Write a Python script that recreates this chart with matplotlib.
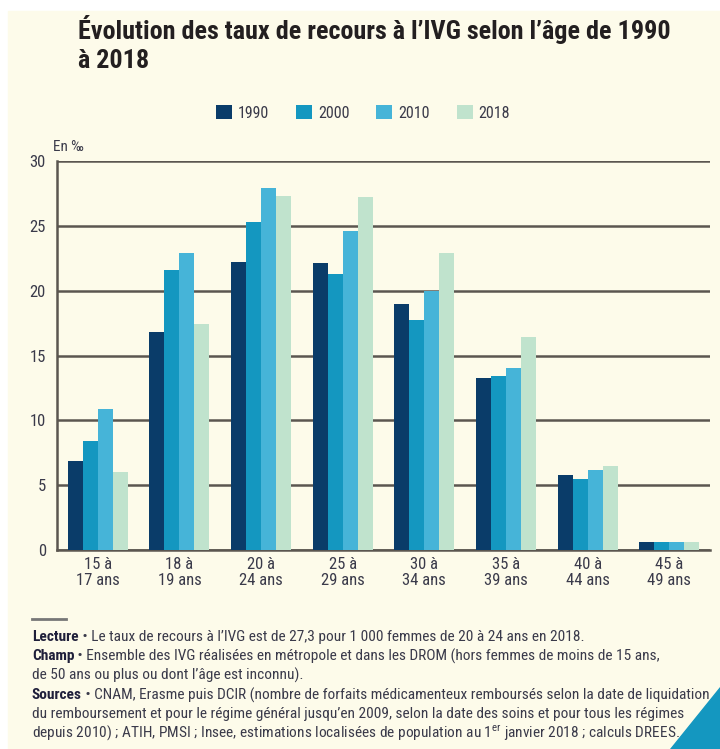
import matplotlib
matplotlib.use("Agg")
import matplotlib.pyplot as plt
import matplotlib.patches as mpatches
from matplotlib import font_manager
import numpy as np

# pick a narrow sans if one is installed, else plain Liberation Sans
names = {f.name for f in font_manager.fontManager.ttflist}
base = "Liberation Sans"
stretch = "normal"
for cand in ["Liberation Sans Narrow", "Roboto Condensed", "Open Sans Condensed"]:
    if cand in names:
        base = cand
        break
else:
    fp = font_manager.FontProperties(family="DejaVu Sans", stretch="condensed")
    if "Condensed" in font_manager.findfont(fp, fallback_to_default=False):
        base = "DejaVu Sans"
        stretch = "condensed"
plt.rcParams['font.family'] = [base, 'DejaVu Sans']
plt.rcParams['font.stretch'] = stretch
plt.rcParams['mathtext.fontset'] = 'custom'
plt.rcParams['mathtext.rm'] = base

# data (taux de recours, en pour mille)
age_groups = ["15 à\n17 ans", "18 à\n19 ans", "20 à\n24 ans", "25 à\n29 ans",
              "30 à\n34 ans", "35 à\n39 ans", "40 à\n44 ans", "45 à\n49 ans"]
years = ["1990", "2000", "2010", "2018"]
taux_1990 = [6.9, 16.8, 22.2, 22.1, 19.0, 13.3, 5.8, 0.6]
taux_2000 = [8.4, 21.6, 25.3, 21.3, 17.7, 13.4, 5.5, 0.6]
taux_2010 = [10.9, 22.9, 27.9, 24.6, 20.0, 14.0, 6.2, 0.6]
taux_2018 = [6.0, 17.4, 27.3, 27.2, 22.9, 16.4, 6.5, 0.6]
yticks = [0, 5, 10, 15, 20, 25, 30]

colors = ["#0a3c69", "#1497c0", "#46b4d8", "#c0e3cd"]
cream = "#fdfbea"
grid_col = "#5b5650"
text_col = "#3a3a4a"

fig = plt.figure(figsize=(7.2, 7.49), dpi=100, facecolor="white")
renderer = fig.canvas.get_renderer()
fig.patches.append(mpatches.Rectangle((8 / 720, 0), 1, 1 - 11 / 749,
                                      transform=fig.transFigure, color=cream, zorder=-10))
# blue corner triangle
fig.patches.append(mpatches.Polygon([(670 / 720, 0), (1, 0), (1, 1 - 687 / 749)],
                                    closed=True, transform=fig.transFigure,
                                    color="#1497c0", zorder=-5))


def fit_text(x0, ypix, s, width_px, **kw):
    """Put text at pixel (x0, ypix) and size it so it spans width_px."""
    t = fig.text(x0 / 720, 1 - ypix / 749, s, fontsize=10, va="center", **kw)
    w = t.get_window_extent(renderer=renderer).width
    t.set_fontsize(10 * width_px / w)
    return t


ax = fig.add_axes([57 / 720, 1 - 550 / 749, (710 - 57) / 720, (550 - 161) / 749])
ax.set_facecolor("none")

x = np.arange(len(age_groups))
w = 0.184
series = [taux_1990, taux_2000, taux_2010, taux_2018]
handles = []
for i, (vals, c) in enumerate(zip(series, colors)):
    b = ax.bar(x + (i - 1.5) * w, vals, width=w, color=c, zorder=3, label=years[i])
    handles.append(b)

ax.set_xlim(-0.5, 7.5)
ax.set_ylim(0, 30)
ax.set_yticks(yticks)
ax.set_xticks(x)
ax.set_xticklabels(age_groups, fontsize=12, color=text_col, linespacing=1.1)
ax.tick_params(axis='y', labelsize=12, labelcolor=text_col, length=0, pad=8)
ax.tick_params(axis='x', length=0, pad=5)
ax.yaxis.grid(True, color=grid_col, linewidth=1.8, zorder=1)
ax.set_axisbelow(True)
for s in ["top", "right"]:
    ax.spines[s].set_visible(False)
for s in ["left", "bottom"]:
    ax.spines[s].set_color(grid_col)
    ax.spines[s].set_linewidth(1.8)

fig.text(53 / 720, 1 - 147 / 749, "En ‰", fontsize=11, color=text_col, va="center")

# title
t1 = fit_text(78, 30, "Évolution des taux de recours à l’IVG selon l’âge de 1990", 594,
              fontweight="bold", color="#231f20")
fig.text(78 / 720, 1 - 61 / 749, "à 2018", fontsize=t1.get_fontsize(),
         fontweight="bold", color="#231f20", va="center")

fig.legend(handles=handles, labels=years, loc="center", bbox_to_anchor=(363 / 720, 1 - 113 / 749),
           ncol=4, frameon=False, fontsize=11.5, handlelength=1.0, handleheight=1.0,
           handletextpad=0.35, columnspacing=1.7, labelcolor=text_col)

# notes
fig.add_artist(plt.Line2D([32 / 720, 66 / 720], [1 - 619 / 749, 1 - 619 / 749],
                          transform=fig.transFigure, color="#777777", linewidth=2))

notes = [
    (637, "Lecture", " • Le taux de recours à l’IVG est de 27,3 pour 1 000 femmes de 20 à 24 ans en 2018."),
    (656, "Champ", " • Ensemble des IVG réalisées en métropole et dans les DROM (hors femmes de moins de 15 ans,"),
    (675, "", "de 50 ans ou plus ou dont l’âge est inconnu)."),
    (695, "Sources", " • CNAM, Erasme puis DCIR (nombre de forfaits médicamenteux remboursés selon la date de liquidation"),
    (714, "", "du remboursement et pour le régime général jusqu’en 2009, selon la date des soins et pour tous les régimes"),
    (733, "", "depuis 2010) ; ATIH, PMSI ; Insee, estimations localisées de population au 1$^{\\rm er}$ janvier 2018 ; calculs DREES."),
]
# size notes so the longest line ("Sources ...") spans 32 -> 706 px
probe = fig.text(0, 0, "Sources" + notes[3][2], fontsize=10)
note_fs = 10 * 674 / probe.get_window_extent(renderer=renderer).width
probe.remove()
for ypix, head, body in notes:
    xf = 32 / 720
    yf = 1 - ypix / 749
    if head:
        t = fig.text(xf, yf, head, fontsize=note_fs, fontweight="bold", color="#1f1f3a", va="center")
        bb = t.get_window_extent(renderer=renderer)
        xf = bb.x1 / fig.bbox.width
    fig.text(xf, yf, body, fontsize=note_fs, color=text_col, va="center")

fig.savefig("out.png", dpi=100, facecolor="white")
